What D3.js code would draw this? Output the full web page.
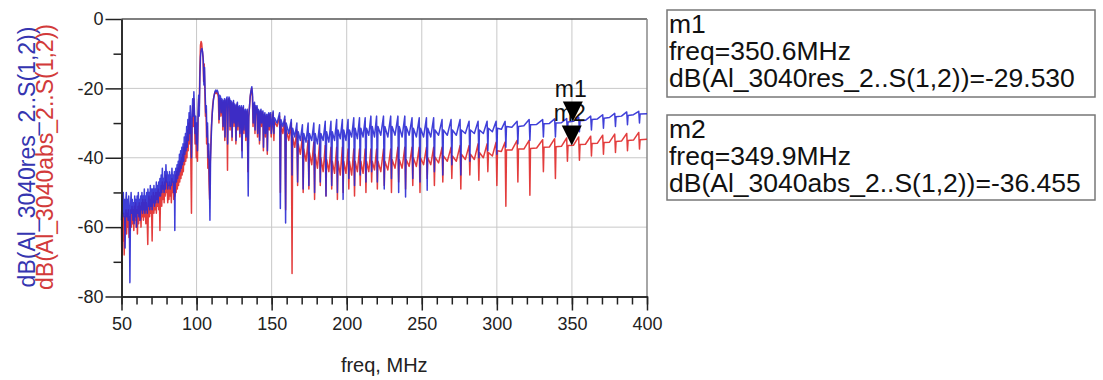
<!DOCTYPE html>
<html>
  <head>
    <meta charset="utf-8">
    <script src="https://d3js.org/d3.v7.min.js"></script>
    <style>
      body { margin: 0; background: #fff; }
      text { font-family: "Liberation Sans", Arial, sans-serif; }
    </style>
  </head>
  <body>
    <svg width="1103" height="380"></svg>
    <script>
      // tick values
      const xMajor = [50, 100, 150, 200, 250, 300, 350, 400];
      const xMinor = d3.range(50, 401, 10);
      const yMajor = [0, -20, -40, -60, -80];
      const yMinor = [-10, -30, -50, -70];

      // dB(Al_3040res_2..S(1,2)), [freq MHz, dB]
      const resTrace = [
        [50,-58],[50.4,-51],[50.8,-56],[51.2,-50],[51.6,-57],[52,-52],[52.4,-66],[52.8,-53],[53.2,-50],[53.6,-57],
        [54,-52],[54.4,-58],[54.8,-51],[55.2,-56],[55.6,-76],[56,-54],[56.4,-50],[56.8,-56],[57.2,-52],[57.6,-58],
        [58,-53],[58.4,-59],[58.8,-51],[59.2,-57],[59.6,-52],[60,-60],[60.4,-51],[60.8,-56],[61.2,-50],[61.6,-57],
        [62,-52],[62.4,-58],[62.8,-51],[63.2,-55],[63.6,-50],[64,-56],[64.4,-51],[64.8,-55],[65.2,-49],[65.6,-56],
        [66,-51],[66.4,-55],[66.8,-50],[67.2,-56],[67.6,-49],[68,-54],[68.4,-50],[68.8,-55],[69.2,-48],[69.6,-54],
        [70,-49],[70.4,-55],[70.8,-49],[71.2,-53],[71.6,-48],[72,-54],[72.4,-49],[72.8,-53],[73.2,-47],[73.6,-52],
        [74,-48],[74.4,-53],[74.8,-47],[75.2,-51],[75.6,-46],[76,-51],[76.4,-45],[76.8,-50],[77.2,-43],[77.6,-49],
        [78,-46],[78.4,-50],[78.8,-44],[79.2,-49],[79.6,-42],[80,-47],[80.4,-44],[80.8,-49],[81.2,-45],[81.6,-48],
        [82,-44],[82.4,-49],[82.8,-45],[83.2,-48],[83.6,-43],[84,-47],[84.4,-45],[84.8,-50],[85.2,-44],[85.5,-61],
        [85.8,-46],[86.2,-43],[86.6,-47],[87,-42],[87.4,-46],[87.8,-41],[88.2,-45],[88.6,-39],[89,-44],[89.4,-38],
        [89.8,-43],[90.2,-37],[90.6,-42],[91,-36],[91.4,-41],[91.8,-34],[92.2,-39],[92.6,-33],[93,-38],[93.4,-31],
        [93.8,-37],[94.2,-29],[94.6,-35],[95,-27],[95.4,-33],[95.8,-25],[96.2,-31],[96.6,-40],[97,-29],[97.4,-23],
        [97.8,-28],[98.2,-21],[98.6,-27],[99,-33],[99.4,-28],[99.8,-36],[100.2,-30],[100.6,-38],[101,-27],[101.4,-22],
        [101.8,-28],[102.2,-17],[102.6,-11],[103,-9],[103.5,-8.5],[104,-9.5],[104.5,-12],[104.9,-19],[105.3,-14],[105.7,-21],
        [106.1,-27],[106.5,-25],[106.9,-34],[107.3,-30],[107.7,-40],[108.1,-36],[108.5,-45],[108.9,-58],[109.3,-41],[109.7,-35],
        [110.1,-30],[110.5,-27],[110.9,-25],[111.3,-23],[111.7,-22],[112.2,-21],[112.7,-20.5],[113.2,-21],[113.7,-20.5],[114.2,-21],
        [114.7,-22],[115.1,-29],[115.5,-22],[116,-22.5],[116.4,-27],[116.8,-23],[117.3,-23.5],[117.7,-31],[118.1,-24],[118.6,-23],
        [119,-34],[119.4,-24],[119.9,-23],[120.3,-22.5],[120.7,-36],[121.1,-24],[121.6,-22.5],[122,-23],[122.4,-31],[122.8,-23.5],
        [123.3,-24],[123.7,-34],[124.1,-25],[124.6,-23.5],[125,-30],[125.4,-24.5],[125.9,-25],[126.3,-35],[126.7,-25],[127.2,-24],
        [127.6,-31],[128,-25.5],[128.5,-25],[128.9,-33],[129.3,-26],[129.8,-25],[130.3,-40],[130.7,-26],[131.2,-25],[131.6,-32],
        [132,-26.5],[132.5,-26],[132.9,-34],[133.3,-27],[133.8,-26],[134.4,-51],[134.8,-28],[135.3,-25],[135.8,-22],[136.3,-20.5],
        [136.8,-19.5],[137.3,-22],[137.7,-30],[138.1,-25],[138.6,-24],[139,-32],[139.4,-25],[139.9,-27],[140.3,-25],[140.7,-33],
        [141.1,-26],[141.6,-26.5],[142,-35],[142.4,-27],[142.9,-26],[143.3,-30],[143.7,-27],[144.2,-26.5],[144.6,-37],[145,-28],
        [145.5,-27],[145.9,-33],[146.3,-28],[146.8,-27.5],[147.2,-38],[147.6,-28],[148.1,-27],[148.5,-31],[148.9,-27.5],[149.4,-27],
        [149.8,-33],
        [151,-26.5],[151.5,-33],[151.9,-28.5],[153.6,-30],
        [155.3,-27],[155.8,-54.6],[156.2,-29],[157.5,-31],
        [158.8,-28],[159.3,-58.8],[159.7,-30],[161.4,-33],
        [163.1,-29],[163.6,-45],[164,-31.5],[165.4,-34],
        [166.8,-30],[167.3,-47],[167.7,-32.5],[169.1,-35],
        [170.5,-30.5],[171,-49],[171.4,-33],[172.9,-35.5],
        [174.3,-30],[174.8,-48],[175.2,-33],[176.7,-35],
        [178.1,-30],[178.6,-50],[179,-33],[180.5,-36],
        [181.9,-30.5],[182.4,-47],[182.8,-33],[184.3,-35],
        [185.7,-29.5],[186.2,-51],[186.6,-32.5],[188.1,-35.5],
        [189.5,-29.5],[190,-48],[190.4,-32.5],[191.9,-35],
        [193.3,-29],[193.8,-50],[194.2,-32],[195.7,-34.5],
        [197.1,-29],[197.6,-52],[198,-32],[199.5,-35],
        [200.9,-29],[201.4,-46],[201.8,-32],[203.3,-34],
        [204.7,-28.5],[205.2,-48],[205.6,-31.5],[207.1,-34.5],
        [208.5,-28.5],[209,-45],[209.4,-31.5],[210.9,-34],
        [212.3,-28.5],[212.8,-47],[213.2,-31.5],[214.7,-33.5],
        [216.1,-28],[216.6,-44],[217,-31],[218.5,-34],
        [219.9,-28],[220.4,-47],[220.8,-31],[222.7,-33.5],
        [224.5,-28],[225,-49],[225.4,-31],[227.4,-34],
        [229.3,-28],[229.8,-46],[230.2,-31],[232.2,-33.5],
        [234.1,-28],[234.6,-50],[235,-31],[236.9,-34],
        [238.7,-28],[239.2,-51.3],[239.6,-31],[241.6,-33.5],
        [243.5,-28.5],[244,-46],[244.4,-31.5],[246.4,-34],
        [248.3,-28.5],[248.8,-47],[249.2,-31.5],[251.2,-34],
        [253.1,-28.5],[253.6,-49.4],[254,-31.5],[256,-34],
        [257.9,-28.5],[258.4,-44],[258.8,-32],[261.2,-33.5],
        [263.5,-29],[264,-45],[264.4,-32],[267,-33.5],
        [269.5,-29],[270,-42],[270.4,-32],[273,-33.5],
        [275.5,-29],[276,-45],[276.4,-32],[279,-33],
        [281.5,-29.5],[282,-41],[282.4,-32],[285,-33],
        [287.5,-29.5],[288,-40],[288.4,-32],[291,-33],
        [293.5,-29.5],[294,-38],[294.4,-31.5],[297,-32.5],
        [299.5,-29.5],[300,-39],[300.4,-31.5],[303,-31.8],
        [305.5,-29.5],[306,-37],[306.4,-31],[310,-31.2],
        [313.5,-29.5],[314,-36],[314.4,-31],[318,-30.8],
        [321.5,-29],[322,-35],[322.4,-30.5],[326.5,-30.4],
        [330.5,-29],[331,-34],[331.4,-30.2],[335,-30.1],
        [338.5,-28.8],[339,-34],[339.4,-30],[343,-29.9],
        [346.5,-28.7],[347,-33],[347.4,-29.7],[351,-29.5],
        [354.5,-28.3],[355,-32.5],[355.4,-29.3],[359,-29.2],
        [362.5,-28],[363,-32],[363.4,-29],[367,-28.8],
        [370.5,-27.6],[371,-31.5],[371.4,-28.6],[375,-28.4],
        [378.5,-27.2],[379,-31],[379.4,-28.2],[383,-28],
        [386.5,-26.8],[387,-30.5],[387.4,-27.8],[391,-27.6],
        [394.5,-26.6],[395,-30],[395.4,-27.4],[400,-27.3]
      ];

      // dB(Al_3040abs_2..S(1,2)), [freq MHz, dB]
      const absTrace = [
        [50,-60],[50.3,-72],[50.6,-58],[51,-64],[51.4,-56],[51.8,-68],[52.2,-57],[52.6,-61],[53,-55],[53.4,-62],
        [53.8,-56],[54.2,-60],[54.6,-55],[55,-63],[55.4,-57],[55.8,-61],[56.2,-55],[56.6,-60],[57,-54],[57.4,-59],
        [57.8,-55],[58.2,-61],[58.6,-54],[59,-58],[59.4,-53],[59.8,-60],[60.2,-55],[60.6,-62],[61,-54],[61.4,-59],
        [61.8,-53],[62.2,-58],[62.6,-54],[63,-60],[63.4,-53],[63.8,-57],[64.2,-52],[64.6,-58],[65,-53],[65.4,-57],
        [65.8,-52],[66.2,-59],[66.6,-53],[67,-56],[67.5,-65],[67.9,-54],[68.3,-51],[68.7,-57],[69.1,-52],[69.5,-56],
        [69.9,-51],[70.4,-64],[70.8,-53],[71.2,-50],[71.6,-56],[72,-51],[72.4,-55],[72.8,-50],[73.2,-56],[73.6,-50],
        [74,-54],[74.4,-49],[74.8,-55],[75.2,-50],[75.6,-61],[76,-51],[76.4,-48],[76.8,-54],[77.2,-47],[77.6,-52],
        [78,-48],[78.4,-53],[78.8,-47],[79.2,-51],[79.6,-45],[80,-50],[80.4,-47],[80.8,-53],[81.2,-48],[81.6,-52],
        [82,-47],[82.4,-51],[82.8,-48],[83.2,-53],[83.6,-46],[84,-50],[84.4,-47],[84.8,-52],[85.2,-47],[85.6,-51],
        [86,-45],[86.4,-50],[86.8,-44],[87.2,-49],[87.6,-43],[88,-48],[88.4,-42],[88.8,-47],[89.2,-41],[89.6,-46],
        [90,-40],[90.4,-45],[90.8,-39],[91.2,-44],[91.6,-37],[92,-42],[92.4,-36],[92.8,-41],[93.2,-34],[93.6,-40],
        [94,-32],[94.4,-38],[94.8,-30],[95.2,-36],[95.6,-28],[96,-34],[96.6,-56],[97,-32],[97.4,-25],[97.8,-31],
        [98.2,-23],[98.6,-29],[99,-36],[99.4,-30],[99.8,-40],[100.2,-33],[100.6,-41],[101,-29],[101.4,-23],[101.8,-25],
        [102.2,-14],[102.6,-7.5],[103,-6.5],[103.4,-7],[103.8,-9],[104.3,-11],[104.7,-18],[105.1,-13],[105.5,-21],[105.9,-28],
        [106.3,-26],[106.7,-36],[107.1,-31],[107.5,-43],[107.9,-38],[108.3,-47],[108.7,-52],[109.1,-42],[109.5,-36],[109.9,-31],
        [110.3,-28],[110.7,-25],[111.1,-23.5],[111.5,-22.5],[112,-21.5],[112.5,-21],[113,-21.5],[113.5,-21],[114,-21.5],[114.5,-22.5],
        [114.9,-30],[115.3,-23],[115.8,-23],[116.2,-28],[116.6,-23.5],[117.1,-24],[117.5,-32],[117.9,-24.5],[118.4,-23.5],[118.8,-35],
        [119.2,-24.5],[119.7,-23.5],[120.1,-23],[120.6,-43.6],[121,-25],[121.5,-23],[121.9,-23.5],[122.3,-32],[122.7,-24],[123.2,-24.5],
        [123.6,-35],[124,-25.5],[124.5,-24],[124.9,-31],[125.3,-25],[125.8,-25.5],[126.2,-36],[126.6,-25.5],[127.1,-24.5],[127.5,-32],
        [127.9,-26],[128.4,-25.5],[128.8,-34],[129.2,-26.5],[129.7,-25.5],[130.2,-38],[130.6,-26.5],[131.1,-25.5],[131.5,-33],[131.9,-27],
        [132.4,-26.5],[132.8,-35],[133.2,-27.5],[133.7,-26.5],[134.2,-44],[134.7,-28.5],[135.2,-25.5],[135.7,-22.5],[136.2,-21],[136.7,-20],
        [137.2,-22.5],[137.6,-31],[138,-25.5],[138.5,-24.5],[138.9,-33],[139.3,-25.5],[139.8,-27.5],[140.2,-25.5],[140.6,-34],[141,-26.5],
        [141.5,-27],[141.9,-36],[142.3,-27.5],[142.8,-26.5],[143.2,-31],[143.6,-27.5],[144.1,-27],[144.5,-38],[144.9,-28.5],[145.4,-27.5],
        [145.8,-34],[146.2,-28.5],[146.7,-28],[147.1,-39],[147.5,-28.5],[148,-27.5],[148.4,-32],[148.8,-28],[149.3,-27.5],[149.7,-34],
        [151,-27],[151.5,-35],[151.9,-29.5],[153.6,-31],
        [155.3,-28],[155.8,-50],[156.2,-30.5],[157.5,-33],
        [158.8,-29],[159.3,-55],[159.7,-32],[161.4,-35],
        [163.1,-30],[163.6,-73.4],[164,-34],[165.4,-37],
        [166.8,-32],[167.3,-48],[167.7,-36],[169.1,-39],
        [170.5,-34],[171,-50],[171.4,-37.5],[172.9,-41],
        [174.3,-35],[174.8,-49],[175.2,-38.5],[176.7,-42],
        [178.1,-35.5],[178.6,-52],[179,-39],[180.5,-43],
        [181.9,-36],[182.4,-48],[182.8,-40],[184.3,-44],
        [185.7,-36.5],[186.2,-51],[186.6,-40.5],[188.1,-44],
        [189.5,-37],[190,-49],[190.4,-41],[191.9,-44.5],
        [193.3,-37],[193.8,-52],[194.2,-41],[195.7,-45],
        [197.1,-37],[197.6,-50],[198,-41],[199.5,-44.5],
        [200.9,-37.5],[201.4,-49],[201.8,-41],[203.3,-45],
        [204.7,-37.5],[205.2,-51],[205.6,-41],[207.1,-44],
        [208.5,-37.5],[209,-48],[209.4,-41],[210.9,-44.5],
        [212.3,-37.5],[212.8,-50],[213.2,-41],[214.7,-44],
        [216.1,-37.5],[216.6,-47],[217,-41],[218.5,-43.5],
        [219.9,-37.5],[220.4,-49],[220.8,-41],[222.7,-44],
        [224.5,-37.5],[225,-48],[225.4,-41],[227.4,-43.5],
        [229.3,-37.5],[229.8,-50],[230.2,-40.5],[232.2,-43],
        [234.1,-37],[234.6,-47],[235,-40.5],[236.9,-43],
        [238.7,-37],[239.2,-49],[239.6,-40.5],[241.6,-42.5],
        [243.5,-37],[244,-48],[244.4,-40],[246.4,-42.5],
        [248.3,-37],[248.8,-50],[249.2,-40],[251.2,-42],
        [253.1,-37],[253.6,-46],[254,-40],[256,-42],
        [257.9,-37],[258.4,-48],[258.8,-39.8],[261.2,-41.5],
        [263.5,-37],[264,-47],[264.4,-39.5],[267,-41],
        [269.5,-37],[270,-46],[270.4,-39.5],[273,-41],
        [275.5,-36.5],[276,-49],[276.4,-39],[279,-40.5],
        [281.5,-36.5],[282,-45],[282.4,-39],[285,-40.5],
        [287.5,-36],[288,-46.5],[288.4,-38.5],[291,-40],
        [293.5,-36],[294,-44],[294.4,-38.5],[297,-39.5],
        [299.5,-35.5],[300,-48],[300.4,-38],[303,-38.2],
        [305.5,-35.5],[306,-54],[306.4,-37.8],[310,-37.8],
        [313.5,-35],[314,-47],[314.4,-37.5],[318,-37.5],
        [321.5,-35],[322,-50.8],[322.4,-37.3],[326.5,-37.2],
        [330.5,-34.8],[331,-44],[331.4,-37],[335,-36.9],
        [338.5,-34.5],[339,-46],[339.4,-36.8],[343,-36.7],
        [346.5,-34.3],[347,-41],[347.4,-36.5],[351,-36.4],
        [354.5,-34],[355,-40.7],[355.4,-36.2],[359,-36.1],
        [362.5,-33.8],[363,-39.5],[363.4,-35.9],[367,-35.8],
        [370.5,-33.5],[371,-39],[371.4,-35.6],[375,-35.5],
        [378.5,-33.2],[379,-38.5],[379.4,-35.3],[383,-35.2],
        [386.5,-33],[387,-38],[387.4,-35],[391,-34.9],
        [394.5,-32.7],[395,-37.5],[395.4,-34.8],[400,-34.7]
      ];

      // markers
      const markerNames = ["m1", "m2"];
      const markerFreq = [350.6, 349.9];
      const markerDb = [-29.530, -36.455];
      const markerTrace = ["dB(Al_3040res_2..S(1,2))", "dB(Al_3040abs_2..S(1,2))"];

      const svg = d3.select("svg");
      const x = d3.scaleLinear().domain([50, 400]).range([121.5, 647]);
      const y = d3.scaleLinear().domain([0, -80]).range([19, 296.5]);

      // grid
      svg.append("g").selectAll("line").data(xMajor.slice(1, -1)).join("line")
        .attr("x1", d => x(d)).attr("x2", d => x(d))
        .attr("y1", y(0)).attr("y2", y(-80))
        .attr("stroke", "#c8c8c8").attr("stroke-width", 1);
      svg.append("g").selectAll("line").data(yMajor.slice(1, -1)).join("line")
        .attr("x1", x(50)).attr("x2", x(400))
        .attr("y1", d => y(d)).attr("y2", d => y(d))
        .attr("stroke", "#c8c8c8").attr("stroke-width", 1);

      // frame top / right
      svg.append("line").attr("x1", x(50)).attr("x2", x(400)).attr("y1", y(0)).attr("y2", y(0))
        .attr("stroke", "#555").attr("stroke-width", 1.5);
      svg.append("line").attr("x1", x(400)).attr("x2", x(400)).attr("y1", y(0)).attr("y2", y(-80))
        .attr("stroke", "#888").attr("stroke-width", 1.5);

      // traces
      const line = d3.line().x(d => x(d[0])).y(d => y(d[1]));
      svg.append("path").datum(absTrace).attr("d", line)
        .attr("fill", "none").attr("stroke", "#e02828").attr("stroke-width", 1.5)
        .attr("stroke-opacity", 0.9).attr("stroke-linejoin", "round");
      svg.append("path").datum(resTrace).attr("d", line)
        .attr("fill", "none").attr("stroke", "#2a2ad4").attr("stroke-width", 1.5)
        .attr("stroke-opacity", 0.9).attr("stroke-linejoin", "round");

      // axes
      function styleAxis(g) {
        g.selectAll("path.domain").attr("stroke", "#222").attr("stroke-width", 1.5);
        g.selectAll(".tick line").attr("stroke", "#222").attr("stroke-width", 1.5);
        g.selectAll("text").attr("font-size", 18).attr("fill", "#222")
          .attr("font-family", "Liberation Sans, Arial, sans-serif");
      }
      svg.append("g").attr("transform", `translate(0,${y(-80)})`)
        .call(d3.axisBottom(x).tickValues(xMinor).tickSize(8).tickSizeOuter(0).tickFormat(""))
        .call(styleAxis);
      svg.append("g").attr("transform", `translate(0,${y(-80)})`)
        .call(d3.axisBottom(x).tickValues(xMajor).tickSize(14).tickSizeOuter(0).tickPadding(7)
          .tickFormat(d => String(d)))
        .call(styleAxis);
      svg.append("g").attr("transform", `translate(${x(50)},0)`)
        .call(d3.axisLeft(y).tickValues(yMinor).tickSize(8).tickSizeOuter(0).tickFormat(""))
        .call(styleAxis);
      svg.append("g").attr("transform", `translate(${x(50)},0)`)
        .call(d3.axisLeft(y).tickValues(yMajor).tickSize(16).tickSizeOuter(0).tickPadding(2)
          .tickFormat(d => String(d)))
        .call(styleAxis);

      // axis titles
      svg.append("text").attr("x", (x(50) + x(400)) / 2).attr("y", 372)
        .attr("text-anchor", "middle").attr("font-size", 20).attr("fill", "#222")
        .text("freq, MHz");
      svg.append("text").attr("transform", "translate(35,157) rotate(-90)")
        .attr("text-anchor", "middle").attr("font-size", 23).attr("fill", "#3535b0")
        .text(markerTrace[0]);
      svg.append("text").attr("transform", "translate(53,157) rotate(-90)")
        .attr("text-anchor", "middle").attr("font-size", 23).attr("fill", "#d23a3a")
        .text(markerTrace[1]);

      // markers on plot
      const tri = 20;
      svg.append("g").selectAll("text").data(markerNames).join("text")
        .attr("x", (d, i) => x(markerFreq[i]) - 2)
        .attr("y", (d, i) => y(markerDb[i]) - tri - 4)
        .attr("text-anchor", "middle").attr("font-size", 23).attr("fill", "#111")
        .text(d => d);
      svg.append("g").selectAll("path").data(markerNames).join("path")
        .attr("d", (d, i) => {
          const px = x(markerFreq[i]), py = y(markerDb[i]);
          return `M${px},${py}L${px - tri / 2},${py - tri}L${px + tri / 2},${py - tri}Z`;
        })
        .attr("fill", "#000");

      // marker readout boxes
      const boxTop = [10, 115];
      markerNames.forEach((m, i) => {
        const g = svg.append("g").attr("transform", `translate(667,${boxTop[i]})`);
        g.append("rect").attr("width", 428).attr("height", i === 0 ? 87 : 85)
          .attr("fill", "#fff").attr("stroke", "#777").attr("stroke-width", 1.5);
        const lines = [m, `freq=${markerFreq[i].toFixed(1)}MHz`, `${markerTrace[i]}=${markerDb[i].toFixed(3)}`];
        g.selectAll("text").data(lines).join("text")
          .attr("x", 2).attr("y", (d, k) => 23 + k * 27)
          .attr("font-size", 26.5).attr("fill", "#111")
          .text(d => d);
      });
    </script>
  </body>
</html>
